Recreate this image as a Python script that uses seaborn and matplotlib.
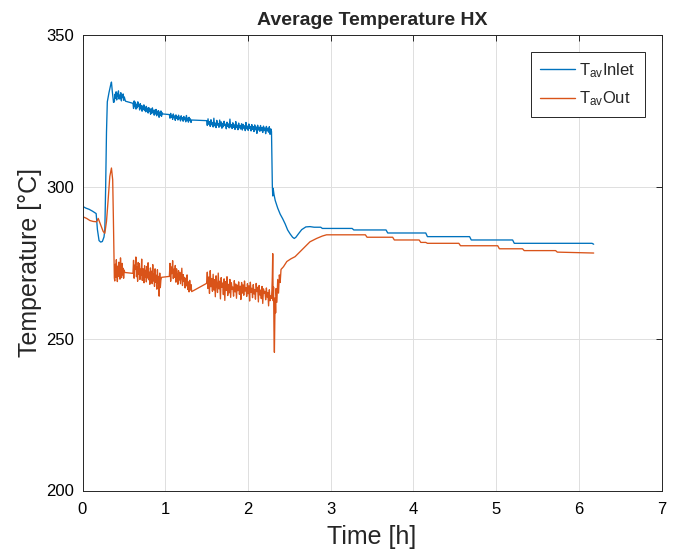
import numpy as np
import pandas as pd
import matplotlib
matplotlib.use("Agg")
import matplotlib.pyplot as plt
import seaborn as sns

# ---------------- data ----------------
series_names = [r"T$_{\mathregular{av}}$Inlet", r"T$_{\mathregular{av}}$Out"]
series_colors = ["#0072BD", "#D95319"]

# Inlet: smooth start-up part
inlet_pre_t = [0.00, 0.04, 0.08, 0.12, 0.165, 0.18, 0.20, 0.22, 0.24, 0.26, 0.27, 0.28,
               0.29, 0.30, 0.32, 0.34, 0.35, 0.36, 0.375]
inlet_pre_T = [293.6, 293.0, 292.6, 292.0, 291.2, 286.0, 282.3, 281.8, 282.0, 283.5, 286.0, 300.0,
               318.0, 328.0, 331.0, 333.5, 334.5, 331.5, 327.8]

# Inlet: noisy measurement blocks (start time, end time, values)
inlet_noise_start = [0.385, 0.61, 1.05, 1.50]
inlet_noise_end = [0.52, 0.97, 1.32, 2.285]
inlet_noise_1 = [328.0, 330.5, 329.2, 331.3, 328.6, 330.8, 329.9, 331.6, 328.9, 330.2,
                 329.0, 331.0, 328.3, 330.1, 329.4, 330.6, 328.5, 329.6, 328.8, 328.2]
inlet_noise_2 = [327.5, 325.8, 328.3, 326.4, 327.9, 325.6, 327.2, 326.0, 328.0, 326.5,
                 326.9, 325.3, 327.4, 325.9, 326.8, 324.9, 326.6, 325.5, 327.0, 325.1,
                 326.2, 324.7, 326.5, 325.0, 325.9, 324.3, 326.1, 324.8, 325.7, 323.9,
                 325.6, 324.2, 326.0, 324.5, 325.2, 323.6, 325.3, 324.0, 325.5, 323.4,
                 324.9, 323.8, 325.1, 322.9, 324.6, 323.5, 325.0, 323.2, 324.4, 324.0]
inlet_noise_3 = [323.8, 322.6, 324.2, 322.9, 323.5, 322.2, 324.0, 322.8, 323.3, 321.9,
                 323.7, 322.5, 323.1, 322.0, 323.6, 322.4, 322.9, 321.7, 323.4, 322.3,
                 322.8, 321.6, 323.2, 322.1, 322.7, 321.4, 323.5, 321.9, 322.6, 321.3,
                 322.9, 321.8, 322.4, 321.2, 322.0]
inlet_noise_4 = [321.8, 320.2, 322.4, 320.6, 321.5, 319.9, 322.1, 320.4, 321.2, 319.7,
                 322.6, 320.1, 321.0, 319.5, 321.9, 320.3, 320.8, 319.6, 322.0, 320.0,
                 321.4, 319.3, 320.9, 319.8, 321.6, 320.2, 320.6, 319.1, 321.3, 319.9,
                 320.7, 319.4, 322.3, 319.7, 320.5, 319.2, 321.1, 319.6, 320.4, 318.9,
                 321.5, 319.5, 320.3, 318.8, 321.0, 319.4, 320.2, 319.0, 320.8, 318.7,
                 320.6, 319.3, 320.1, 318.5, 321.2, 319.1, 320.0, 318.6, 320.7, 319.2,
                 319.9, 318.4, 320.5, 318.9, 319.8, 318.2, 320.4, 318.8, 319.7, 317.6,
                 320.3, 318.7, 319.6, 318.3, 320.2, 318.5, 319.5, 317.9, 320.0, 318.6,
                 319.4, 317.5, 319.9, 318.4, 319.3, 318.0, 319.8, 317.3, 319.1, 318.2]

# Inlet: drop and slow stepwise decline
inlet_post_t = [2.29, 2.295, 2.30, 2.305, 2.315, 2.33, 2.36, 2.39, 2.42, 2.45, 2.48, 2.51, 2.54,
                2.56, 2.58, 2.61, 2.65, 2.70, 2.75, 2.80, 2.88, 2.90, 3.26, 3.28, 3.67, 3.69,
                4.15, 4.17, 4.68, 4.70, 5.20, 5.22, 6.16, 6.18]
inlet_post_T = [310.0, 300.5, 297.0, 299.5, 297.5, 295.5, 293.0, 291.0, 289.5, 287.8, 285.8, 284.5,
                283.4, 283.0, 283.4, 284.5, 285.9, 286.8, 286.9, 286.7, 286.7, 286.3, 286.3, 285.8,
                285.8, 284.8, 284.8, 283.6, 283.6, 282.5, 282.5, 281.4, 281.4, 281.1]

# Outlet: smooth start-up part
outlet_pre_t = [0.00, 0.05, 0.09, 0.13, 0.17, 0.19, 0.22, 0.25, 0.27, 0.29, 0.31, 0.33, 0.35,
                0.365, 0.373, 0.385]
outlet_pre_T = [290.2, 289.6, 288.9, 288.6, 288.5, 289.6, 287.5, 285.3, 284.7, 288.6, 295.7, 303.4,
                306.2, 302.3, 290.2, 270.0]

# Outlet: noisy measurement blocks
outlet_noise_start = [0.39, 0.61, 1.05, 1.50]
outlet_noise_end = [0.51, 0.955, 1.32, 2.285]
outlet_noise_1 = [269.0, 274.5, 270.2, 276.0, 271.3, 268.8, 273.9, 270.5, 275.2, 271.8,
                  269.6, 276.6, 272.4, 270.1, 274.8, 271.0, 273.2, 269.9, 272.6, 271.8]
outlet_noise_2 = [271.5, 275.8, 269.9, 274.2, 272.8, 276.9, 270.4, 273.6, 268.9, 275.1,
                  271.2, 274.7, 269.5, 272.9, 270.8, 276.2, 269.2, 273.1, 271.7, 268.4,
                  274.0, 270.3, 272.5, 268.7, 273.8, 270.0, 275.0, 269.4, 271.9, 267.9,
                  273.3, 269.6, 272.2, 268.1, 274.4, 269.0, 271.4, 267.2, 273.0, 268.6,
                  270.9, 266.3, 272.7, 268.2, 270.5, 264.0, 271.6, 266.8, 269.3, 270.2]
outlet_noise_3 = [270.5, 274.8, 268.9, 273.6, 271.4, 275.7, 269.8, 272.9, 270.2, 274.1,
                  268.6, 273.0, 270.9, 267.9, 272.4, 269.3, 271.8, 268.1, 270.6, 273.2,
                  267.5, 271.1, 268.8, 270.2, 266.7, 269.9, 267.4, 271.0, 266.2, 268.7,
                  265.4, 269.2, 266.0, 267.8, 265.5]
outlet_noise_4 = [268.2, 271.9, 266.5, 270.3, 264.9, 272.4, 267.1, 269.8, 265.6, 271.2,
                  266.0, 269.4, 263.8, 270.7, 267.5, 265.2, 271.6, 266.4, 268.9, 263.1,
                  270.1, 266.9, 268.3, 264.5, 269.7, 262.6, 268.8, 265.9, 270.4, 264.2,
                  267.9, 265.1, 269.5, 263.6, 268.4, 266.3, 267.0, 264.0, 269.1, 265.4,
                  268.0, 263.3, 267.6, 265.8, 268.7, 264.6, 267.3, 262.9, 268.5, 265.0,
                  267.7, 264.3, 269.0, 265.7, 266.8, 263.9, 268.1, 264.8, 267.4, 262.4,
                  268.6, 265.3, 266.6, 263.5, 267.8, 264.7, 266.2, 263.0, 268.2, 265.5,
                  266.9, 262.1, 267.5, 264.4, 266.0, 263.2, 267.2, 261.6, 266.4, 264.9,
                  265.6, 262.8, 266.7, 263.7, 265.2, 260.8, 266.1, 262.5, 264.1, 263.3]

# Outlet: spike, recovery and stepwise decline
outlet_post_t = [2.29, 2.295, 2.30, 2.305, 2.31, 2.315, 2.32, 2.325, 2.33, 2.335, 2.34, 2.35,
                 2.36, 2.37, 2.38, 2.39, 2.40, 2.43, 2.47, 2.52, 2.57, 2.61, 2.67, 2.75, 2.83,
                 2.90, 2.95, 3.42, 3.44, 3.75, 3.77, 4.07, 4.09, 4.15, 4.17, 4.55, 4.57, 5.02,
                 5.04, 5.32, 5.34, 5.72, 5.74, 6.18]
outlet_post_T = [266.0, 270.5, 278.0, 262.5, 267.0, 252.5, 245.5, 256.0, 263.5, 258.5, 266.5, 262.0,
                 269.5, 265.0, 271.0, 268.5, 272.8, 273.7, 275.4, 276.3, 277.0, 278.1, 279.7, 281.9,
                 283.0, 283.8, 284.2, 284.2, 283.4, 283.4, 282.5, 282.5, 281.7, 281.7, 281.4, 281.4,
                 280.6, 280.6, 279.6, 279.6, 279.0, 279.0, 278.5, 278.2]

x_ticks = [0, 1, 2, 3, 4, 5, 6, 7]
y_ticks = [200, 250, 300, 350]


def assemble(pre_t, pre_T, starts, ends, blocks, post_t, post_T):
    t_all = list(pre_t)
    T_all = list(pre_T)
    for s, e, vals in zip(starts, ends, blocks):
        t_all += list(np.linspace(s, e, len(vals)))
        T_all += list(vals)
    t_all += list(post_t)
    T_all += list(post_T)
    return t_all, T_all


t_in, T_in = assemble(inlet_pre_t, inlet_pre_T, inlet_noise_start, inlet_noise_end,
                      [inlet_noise_1, inlet_noise_2, inlet_noise_3, inlet_noise_4],
                      inlet_post_t, inlet_post_T)
t_out, T_out = assemble(outlet_pre_t, outlet_pre_T, outlet_noise_start, outlet_noise_end,
                        [outlet_noise_1, outlet_noise_2, outlet_noise_3, outlet_noise_4],
                        outlet_post_t, outlet_post_T)

df = pd.DataFrame({
    "Time": t_in + t_out,
    "Temperature": T_in + T_out,
    "Series": [series_names[0]] * len(t_in) + [series_names[1]] * len(t_out),
})

# ---------------- plot ----------------
sns.set_theme(style="white")
plt.rcParams["font.family"] = ["Liberation Sans", "DejaVu Sans"]
plt.rcParams["mathtext.fontset"] = "custom"
plt.rcParams["mathtext.rm"] = "Liberation Sans"
plt.rcParams["mathtext.it"] = "Liberation Sans"

fig = plt.figure(figsize=(6.76, 5.56), dpi=100)
ax = fig.add_axes([82.5 / 676, 1 - 490.5 / 556, (661.5 - 82.5) / 676, (490.5 - 35) / 556])

sns.lineplot(data=df, x="Time", y="Temperature", hue="Series",
             palette=dict(zip(series_names, series_colors)),
             estimator=None, sort=False, linewidth=0.95, ax=ax)

ax.set_xlim(0, 7)
ax.set_ylim(200, 350)
ax.set_xticks(x_ticks)
ax.set_yticks(y_ticks)
ax.grid(True, color="#dedede", linewidth=0.7)
ax.set_axisbelow(True)
for sp in ax.spines.values():
    sp.set_color("#262626")
    sp.set_linewidth(0.7)
ax.tick_params(axis="both", direction="in", top=True, right=True, length=4.5,
               width=0.7, color="#262626", labelsize=12, labelcolor="black")
ax.tick_params(axis="x", pad=8)
ax.tick_params(axis="y", pad=6)

ax.set_xlabel("Time [h]", fontsize=18, labelpad=6)
ax.set_ylabel("Temperature [°C]", fontsize=18, labelpad=3)
ax.set_title("Average Temperature HX", fontsize=14, fontweight="bold", pad=7)

handles, labels = ax.get_legend_handles_labels()
leg = ax.legend(handles, labels, loc="upper right", fontsize=12, frameon=True,
                fancybox=False, framealpha=1, edgecolor="#262626",
                handlelength=2.1, handletextpad=0.25, borderaxespad=1.0,
                borderpad=0.55, labelspacing=0.6)
leg.get_frame().set_linewidth(0.7)
for line in leg.get_lines():
    line.set_linewidth(1.0)

fig.savefig("out.png", dpi=100)
